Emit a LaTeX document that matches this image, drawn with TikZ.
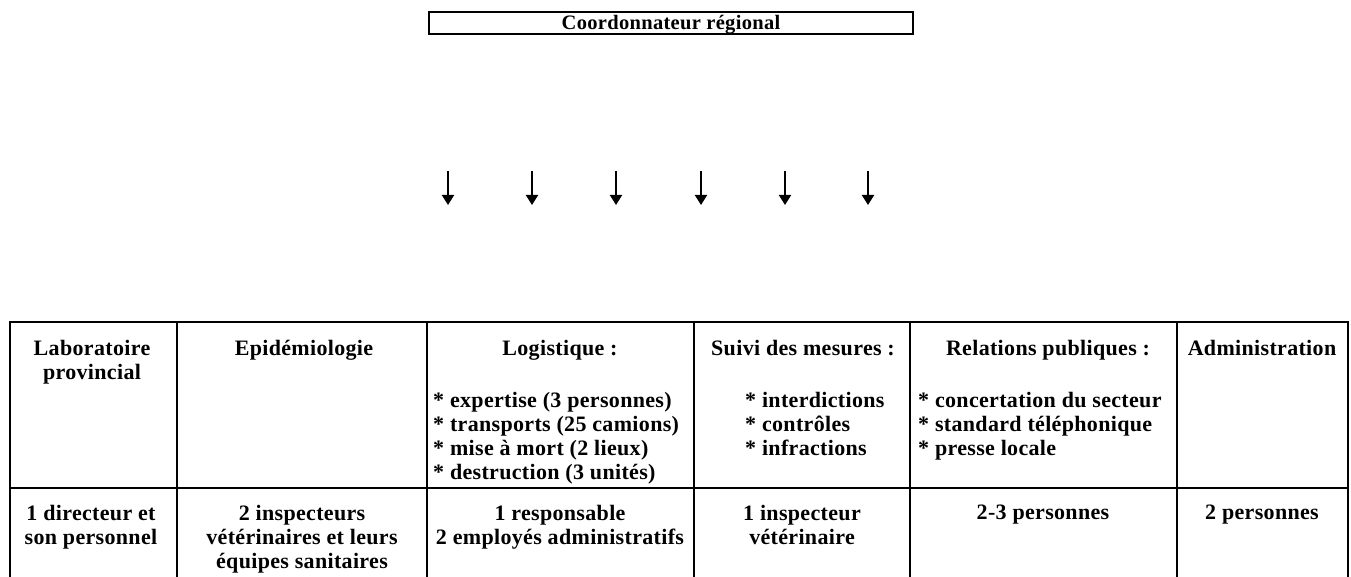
\documentclass[tikz,border=0pt]{standalone}
\usepackage{fontspec}
\setmainfont[LetterSpace=1.5]{Liberation Serif}
\usetikzlibrary{arrows.meta}
\begin{document}
\begin{tikzpicture}[x=1pt,y=-1pt,
  rule/.style={line width=2pt, line cap=rect},
  txt/.style={font=\fontsize{22}{24}\selectfont\bfseries, inner sep=0pt},
  cell/.style={txt, anchor=north, align=center},
  list/.style={txt, anchor=north west, align=left},
  arr/.style={line width=2pt, -{Triangle[width=12pt,length=10pt]}},
]
\useasboundingbox (0,0) rectangle (1351,577);
% top box
\node[draw, rule, minimum width=484pt, minimum height=22pt, inner sep=0pt,
      text height=16.5pt, text depth=2.5pt,
      font=\fontsize{20.5}{24}\selectfont\bfseries] (coord) at (671,23) {Coordonnateur régional};
% arrows
\foreach \i/\x in {1/448,2/532,3/616,4/701,5/785,6/868} {
  \coordinate (s\i) at (\x,171);
  \coordinate (e\i) at (\x,205);
  \draw[arr] (s\i) -- (e\i);
}
% table rules
\draw[rule] (10,322) -- (1348,322);
\draw[rule] (10,488) -- (1348,488);
\foreach \x in {10,177,427,694,910,1177,1348} \draw[rule] (\x,322) -- (\x,577);
% header row
\node[cell] (h1) at (92,340) {Laboratoire\\provincial};
\node[cell] (h2) at (304,340) {Epidémiologie};
\node[cell] (h3) at (560,340) {Logistique :};
\node[list] (l3) at (433,392) {* expertise (3 personnes)\\* transports (25 camions)\\* mise à mort (2 lieux)\\* destruction (3 unités)};
\node[cell] (h4) at (803,340) {Suivi des mesures :};
\node[list] (l4) at (745,392) {* interdictions\\* contrôles\\* infractions};
\node[cell] (h5) at (1048,340) {Relations publiques :};
\node[list] (l5) at (918,392) {* concertation du secteur\\* standard téléphonique\\* presse locale};
\node[cell] (h6) at (1262,340) {Administration};
% bottom row
\node[cell] (b1) at (91,505) {1 directeur et\\son personnel};
\node[cell] (b2) at (302,505) {2 inspecteurs\\vétérinaires et leurs\\équipes sanitaires};
\node[cell] (b3) at (560,505) {1 responsable\\2 employés administratifs};
\node[cell] (b4) at (802,505) {1 inspecteur\\vétérinaire};
\node[cell] (b5) at (1043,505) {2-3 personnes};
\node[cell] (b6) at (1262,505) {2 personnes};
\end{tikzpicture}
\end{document}
